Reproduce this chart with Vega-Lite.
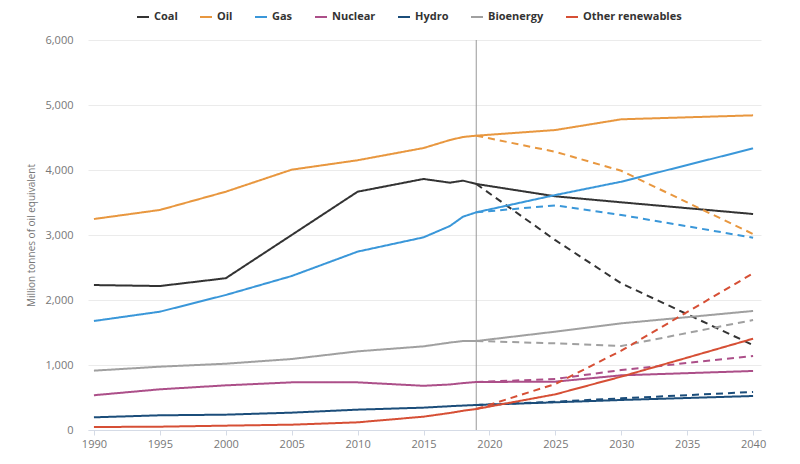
{
  "$schema": "https://vega.github.io/schema/vega-lite/v6.json",
  "width": 673,
  "height": 390,
  "autosize": "none",
  "padding": {"left": 88, "top": 40, "right": 39, "bottom": 34},
  "config": {"view": {"stroke": null}, "font": "Open Sans"},
  "data": {"values": [
    {"source":"Coal","scenario":"Stated","year":1990,"value":2230},
    {"source":"Coal","scenario":"Stated","year":1995,"value":2215},
    {"source":"Coal","scenario":"Stated","year":2000,"value":2335},
    {"source":"Coal","scenario":"Stated","year":2005,"value":3000},
    {"source":"Coal","scenario":"Stated","year":2010,"value":3666},
    {"source":"Coal","scenario":"Stated","year":2015,"value":3862},
    {"source":"Coal","scenario":"Stated","year":2017,"value":3805},
    {"source":"Coal","scenario":"Stated","year":2018,"value":3836},
    {"source":"Coal","scenario":"Stated","year":2019,"value":3785},
    {"source":"Coal","scenario":"Stated","year":2025,"value":3595},
    {"source":"Coal","scenario":"Stated","year":2030,"value":3503},
    {"source":"Coal","scenario":"Stated","year":2040,"value":3323},
    {"source":"Coal","scenario":"Sustainable","year":2019,"value":3785},
    {"source":"Coal","scenario":"Sustainable","year":2025,"value":2920},
    {"source":"Coal","scenario":"Sustainable","year":2030,"value":2256},
    {"source":"Coal","scenario":"Sustainable","year":2040,"value":1307},
    {"source":"Oil","scenario":"Stated","year":1990,"value":3246},
    {"source":"Oil","scenario":"Stated","year":1995,"value":3385},
    {"source":"Oil","scenario":"Stated","year":2000,"value":3666},
    {"source":"Oil","scenario":"Stated","year":2005,"value":4005},
    {"source":"Oil","scenario":"Stated","year":2010,"value":4150},
    {"source":"Oil","scenario":"Stated","year":2015,"value":4338},
    {"source":"Oil","scenario":"Stated","year":2017,"value":4461},
    {"source":"Oil","scenario":"Stated","year":2018,"value":4508},
    {"source":"Oil","scenario":"Stated","year":2019,"value":4528},
    {"source":"Oil","scenario":"Stated","year":2025,"value":4615},
    {"source":"Oil","scenario":"Stated","year":2030,"value":4780},
    {"source":"Oil","scenario":"Stated","year":2040,"value":4841},
    {"source":"Oil","scenario":"Sustainable","year":2019,"value":4528},
    {"source":"Oil","scenario":"Sustainable","year":2025,"value":4280},
    {"source":"Oil","scenario":"Sustainable","year":2030,"value":3988},
    {"source":"Oil","scenario":"Sustainable","year":2040,"value":3015},
    {"source":"Gas","scenario":"Stated","year":1990,"value":1677},
    {"source":"Gas","scenario":"Stated","year":1995,"value":1820},
    {"source":"Gas","scenario":"Stated","year":2000,"value":2077},
    {"source":"Gas","scenario":"Stated","year":2005,"value":2369},
    {"source":"Gas","scenario":"Stated","year":2010,"value":2744},
    {"source":"Gas","scenario":"Stated","year":2015,"value":2964},
    {"source":"Gas","scenario":"Stated","year":2017,"value":3138},
    {"source":"Gas","scenario":"Stated","year":2018,"value":3282},
    {"source":"Gas","scenario":"Stated","year":2019,"value":3349},
    {"source":"Gas","scenario":"Stated","year":2025,"value":3615},
    {"source":"Gas","scenario":"Stated","year":2030,"value":3820},
    {"source":"Gas","scenario":"Stated","year":2040,"value":4333},
    {"source":"Gas","scenario":"Sustainable","year":2019,"value":3349},
    {"source":"Gas","scenario":"Sustainable","year":2025,"value":3456},
    {"source":"Gas","scenario":"Sustainable","year":2030,"value":3308},
    {"source":"Gas","scenario":"Sustainable","year":2040,"value":2959},
    {"source":"Nuclear","scenario":"Stated","year":1990,"value":535},
    {"source":"Nuclear","scenario":"Stated","year":1995,"value":626},
    {"source":"Nuclear","scenario":"Stated","year":2000,"value":687},
    {"source":"Nuclear","scenario":"Stated","year":2005,"value":733},
    {"source":"Nuclear","scenario":"Stated","year":2010,"value":733},
    {"source":"Nuclear","scenario":"Stated","year":2015,"value":680},
    {"source":"Nuclear","scenario":"Stated","year":2017,"value":700},
    {"source":"Nuclear","scenario":"Stated","year":2018,"value":722},
    {"source":"Nuclear","scenario":"Stated","year":2019,"value":738},
    {"source":"Nuclear","scenario":"Stated","year":2025,"value":744},
    {"source":"Nuclear","scenario":"Stated","year":2030,"value":841},
    {"source":"Nuclear","scenario":"Stated","year":2040,"value":908},
    {"source":"Nuclear","scenario":"Sustainable","year":2019,"value":738},
    {"source":"Nuclear","scenario":"Sustainable","year":2025,"value":785},
    {"source":"Nuclear","scenario":"Sustainable","year":2030,"value":923},
    {"source":"Nuclear","scenario":"Sustainable","year":2040,"value":1138},
    {"source":"Hydro","scenario":"Stated","year":1990,"value":195},
    {"source":"Hydro","scenario":"Stated","year":1995,"value":226},
    {"source":"Hydro","scenario":"Stated","year":2000,"value":236},
    {"source":"Hydro","scenario":"Stated","year":2005,"value":267},
    {"source":"Hydro","scenario":"Stated","year":2010,"value":313},
    {"source":"Hydro","scenario":"Stated","year":2015,"value":344},
    {"source":"Hydro","scenario":"Stated","year":2017,"value":366},
    {"source":"Hydro","scenario":"Stated","year":2018,"value":376},
    {"source":"Hydro","scenario":"Stated","year":2019,"value":385},
    {"source":"Hydro","scenario":"Stated","year":2025,"value":426},
    {"source":"Hydro","scenario":"Stated","year":2030,"value":462},
    {"source":"Hydro","scenario":"Stated","year":2040,"value":523},
    {"source":"Hydro","scenario":"Sustainable","year":2019,"value":385},
    {"source":"Hydro","scenario":"Sustainable","year":2025,"value":436},
    {"source":"Hydro","scenario":"Sustainable","year":2030,"value":487},
    {"source":"Hydro","scenario":"Sustainable","year":2040,"value":585},
    {"source":"Bioenergy","scenario":"Stated","year":1990,"value":913},
    {"source":"Bioenergy","scenario":"Stated","year":1995,"value":974},
    {"source":"Bioenergy","scenario":"Stated","year":2000,"value":1020},
    {"source":"Bioenergy","scenario":"Stated","year":2005,"value":1092},
    {"source":"Bioenergy","scenario":"Stated","year":2010,"value":1210},
    {"source":"Bioenergy","scenario":"Stated","year":2015,"value":1287},
    {"source":"Bioenergy","scenario":"Stated","year":2017,"value":1345},
    {"source":"Bioenergy","scenario":"Stated","year":2018,"value":1369},
    {"source":"Bioenergy","scenario":"Stated","year":2019,"value":1369},
    {"source":"Bioenergy","scenario":"Stated","year":2025,"value":1513},
    {"source":"Bioenergy","scenario":"Stated","year":2030,"value":1641},
    {"source":"Bioenergy","scenario":"Stated","year":2040,"value":1831},
    {"source":"Bioenergy","scenario":"Sustainable","year":2019,"value":1369},
    {"source":"Bioenergy","scenario":"Sustainable","year":2025,"value":1333},
    {"source":"Bioenergy","scenario":"Sustainable","year":2030,"value":1292},
    {"source":"Bioenergy","scenario":"Sustainable","year":2040,"value":1692},
    {"source":"Other renewables","scenario":"Stated","year":1990,"value":46},
    {"source":"Other renewables","scenario":"Stated","year":1995,"value":51},
    {"source":"Other renewables","scenario":"Stated","year":2000,"value":67},
    {"source":"Other renewables","scenario":"Stated","year":2005,"value":82},
    {"source":"Other renewables","scenario":"Stated","year":2010,"value":118},
    {"source":"Other renewables","scenario":"Stated","year":2015,"value":205},
    {"source":"Other renewables","scenario":"Stated","year":2017,"value":262},
    {"source":"Other renewables","scenario":"Stated","year":2018,"value":296},
    {"source":"Other renewables","scenario":"Stated","year":2019,"value":323},
    {"source":"Other renewables","scenario":"Stated","year":2025,"value":549},
    {"source":"Other renewables","scenario":"Stated","year":2030,"value":821},
    {"source":"Other renewables","scenario":"Stated","year":2040,"value":1405},
    {"source":"Other renewables","scenario":"Sustainable","year":2019,"value":323},
    {"source":"Other renewables","scenario":"Sustainable","year":2025,"value":708},
    {"source":"Other renewables","scenario":"Sustainable","year":2030,"value":1220},
    {"source":"Other renewables","scenario":"Sustainable","year":2040,"value":2410}
  ]},
  "layer": [
    {
      "data": {"values": [{"year": 2019}]},
      "mark": {"type": "rule", "color": "#999999", "strokeWidth": 1},
      "encoding": {"x": {"field": "year", "type": "quantitative"}}
    },
    {
      "mark": {"type": "line", "strokeWidth": 2},
      "encoding": {
        "x": {
          "field": "year", "type": "quantitative",
          "scale": {"domain": [1989.55, 2040.6], "nice": false, "zero": false},
          "axis": {
            "title": null, "values": [1990,1995,2000,2005,2010,2015,2020,2025,2030,2035,2040],
            "format": "d", "grid": false, "domainColor": "#d5dbe6", "tickColor": "#d5dbe6",
            "tickSize": 5, "labelColor": "#777777", "labelFontSize": 11, "labelPadding": 3
          }
        },
        "y": {
          "field": "value", "type": "quantitative",
          "scale": {"domain": [0, 6000], "nice": false},
          "axis": {
            "title": "Million tonnes of oil equivalent", "titleColor": "#777777",
            "titleFontSize": 10, "titleFontWeight": "normal", "titlePadding": 8,
            "values": [0,1000,2000,3000,4000,5000,6000], "format": ",.0f",
            "ticks": false, "domain": false, "gridColor": "#ebebeb",
            "labelColor": "#777777", "labelFontSize": 11, "labelPadding": 15
          }
        },
        "color": {
          "field": "source", "type": "nominal",
          "scale": {
            "domain": ["Coal","Oil","Gas","Nuclear","Hydro","Bioenergy","Other renewables"],
            "range": ["#333333","#e8973f","#3a97d9","#ac4f89","#1b4d7a","#a0a0a0","#d64f35"]
          },
          "legend": {
            "title": null, "orient": "none", "direction": "horizontal",
            "legendX": 48, "legendY": -30, "symbolType": "stroke", "symbolSize": 144,
            "symbolStrokeWidth": 2, "labelFontSize": 11, "labelFontWeight": "bold",
            "labelColor": "#333333", "labelOffset": 4, "columnPadding": 18
          }
        },
        "strokeDash": {
          "field": "scenario", "type": "nominal",
          "scale": {"domain": ["Stated","Sustainable"], "range": [[1,0],[7,5]]},
          "legend": null
        },
        "detail": {"field": "scenario"}
      }
    }
  ]
}
